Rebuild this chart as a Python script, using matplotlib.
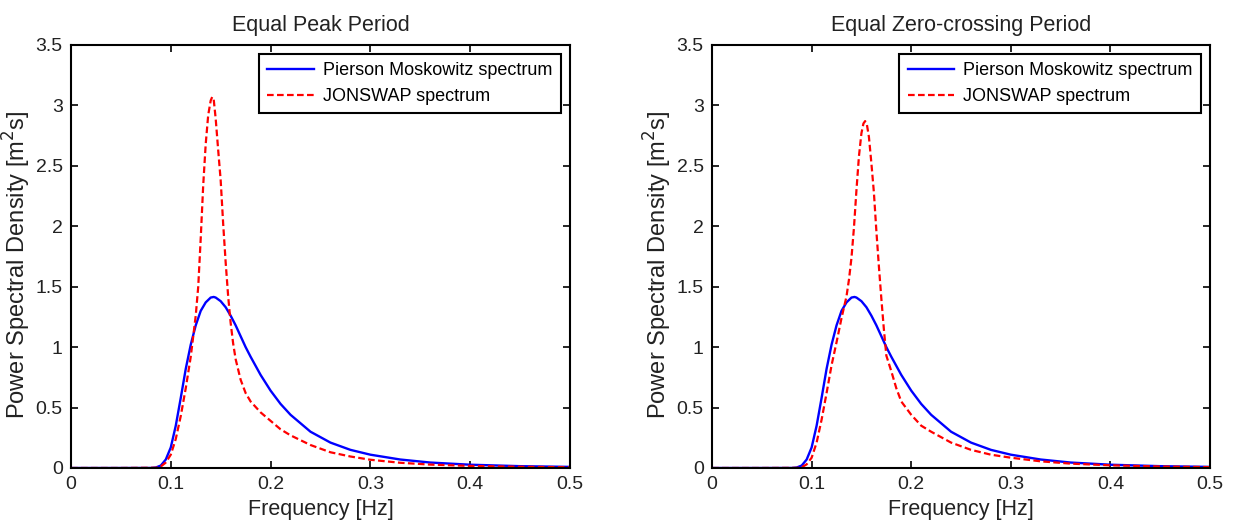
import matplotlib
matplotlib.use('Agg')
import matplotlib.pyplot as plt

plt.rcParams['font.family'] = ['Liberation Sans', 'DejaVu Sans']

# Pierson Moskowitz spectrum (same in both panels)
freq_pm = [0, 0.05, 0.08, 0.085, 0.09, 0.095, 0.10, 0.105, 0.11, 0.115, 0.12, 0.125, 0.13,
           0.135, 0.14, 0.143, 0.145, 0.15, 0.155, 0.16, 0.165, 0.17, 0.175, 0.18, 0.19,
           0.20, 0.21, 0.22, 0.24, 0.26, 0.28, 0.30, 0.33, 0.36, 0.40, 0.45, 0.50]
pm_spec = [0, 0, 0.0003, 0.004, 0.02, 0.07, 0.17, 0.35, 0.58, 0.82, 1.02, 1.18, 1.30,
           1.37, 1.41, 1.415, 1.41, 1.38, 1.33, 1.26, 1.18, 1.09, 1.00, 0.92, 0.77,
           0.64, 0.53, 0.44, 0.30, 0.21, 0.15, 0.11, 0.07, 0.045, 0.027, 0.015, 0.009]

# JONSWAP, equal peak period
freq_js_peak = [0, 0.05, 0.085, 0.09, 0.095, 0.10, 0.105, 0.11, 0.115, 0.12, 0.125, 0.1275,
                0.13, 0.1325, 0.135, 0.1375, 0.14, 0.1415, 0.143, 0.145, 0.1475, 0.15, 0.1525,
                0.155, 0.1575, 0.16, 0.1625, 0.165, 0.17, 0.175, 0.18, 0.19, 0.20, 0.21, 0.22,
                0.24, 0.26, 0.28, 0.30, 0.33, 0.36, 0.40, 0.45, 0.50]
js_peak = [0, 0, 0.002, 0.012, 0.045, 0.11, 0.24, 0.43, 0.66, 0.92, 1.26, 1.50,
           1.90, 2.34, 2.68, 2.92, 3.04, 3.07, 3.05, 2.89, 2.63, 2.38, 2.02,
           1.70, 1.42, 1.20, 1.03, 0.90, 0.73, 0.62, 0.55, 0.46, 0.39, 0.32, 0.27,
           0.19, 0.13, 0.095, 0.068, 0.043, 0.028, 0.017, 0.010, 0.006]

# JONSWAP, equal zero-crossing period
freq_js_zero = [0, 0.05, 0.085, 0.09, 0.095, 0.10, 0.105, 0.11, 0.115, 0.12, 0.125, 0.13,
                0.135, 0.1375, 0.14, 0.1425, 0.145, 0.1475, 0.15, 0.152, 0.1537, 0.1555,
                0.1575, 0.16, 0.1625, 0.165, 0.1675, 0.17, 0.1725, 0.175, 0.18, 0.185,
                0.19, 0.20, 0.21, 0.22, 0.24, 0.26, 0.28, 0.30, 0.33, 0.36, 0.40, 0.45, 0.50]
js_zero = [0, 0, 0.001, 0.006, 0.03, 0.085, 0.21, 0.40, 0.62, 0.85, 1.04, 1.24,
           1.42, 1.56, 1.74, 1.99, 2.30, 2.58, 2.77, 2.85, 2.87, 2.84,
           2.74, 2.52, 2.28, 1.96, 1.67, 1.40, 1.15, 0.93, 0.80, 0.66,
           0.55, 0.44, 0.35, 0.30, 0.21, 0.15, 0.11, 0.085, 0.055, 0.036, 0.022, 0.012, 0.007]

titles = ['Equal Peak Period', 'Equal Zero-crossing Period']
x_ticks = [0, 0.1, 0.2, 0.3, 0.4, 0.5]
x_labels = ['0', '0.1', '0.2', '0.3', '0.4', '0.5']
y_ticks = [0, 0.5, 1, 1.5, 2, 2.5, 3, 3.5]
y_labels = ['0', '0.5', '1', '1.5', '2', '2.5', '3', '3.5']

fig = plt.figure(figsize=(12.39, 5.27), dpi=100)
ax1 = fig.add_axes([0.0573, 0.112, 0.4027, 0.8027])
ax2 = fig.add_axes([0.5747, 0.112, 0.4019, 0.8027])

for ax, title, fj, sj in [(ax1, titles[0], freq_js_peak, js_peak),
                          (ax2, titles[1], freq_js_zero, js_zero)]:
    ax.plot(freq_pm, pm_spec, color='#0000ff', lw=1.7, label='Pierson Moskowitz spectrum')
    ax.plot(fj, sj, color='#ff0000', lw=1.6, dashes=(3, 1.5), label='JONSWAP spectrum')
    ax.set_xlim(0, 0.5)
    ax.set_ylim(0, 3.5)
    ax.set_xticks(x_ticks)
    ax.set_xticklabels(x_labels)
    ax.set_yticks(y_ticks)
    ax.set_yticklabels(y_labels)
    ax.tick_params(direction='in', top=True, right=True, length=5, width=1.2,
                   labelsize=14, pad=6, labelcolor='#222222')
    for s in ax.spines.values():
        s.set_linewidth(1.5)
    ax.set_title(title, fontsize=15.5, pad=10, color='#222222')
    ax.set_xlabel('Frequency [Hz]', fontsize=15.5, labelpad=4, color='#222222')
    ax.set_ylabel('Power Spectral Density [m$^2$s]', fontsize=17, color='#222222')
    ax.yaxis.set_label_coords(-0.077, 0.48)
    leg = ax.legend(loc='upper right', fontsize=13, fancybox=False, edgecolor='black',
                    framealpha=1, handlelength=2.6, borderaxespad=0.5,
                    labelspacing=0.5, borderpad=0.45, handletextpad=0.5)
    leg.get_frame().set_linewidth(1.5)

fig.savefig('out.png', dpi=100)
